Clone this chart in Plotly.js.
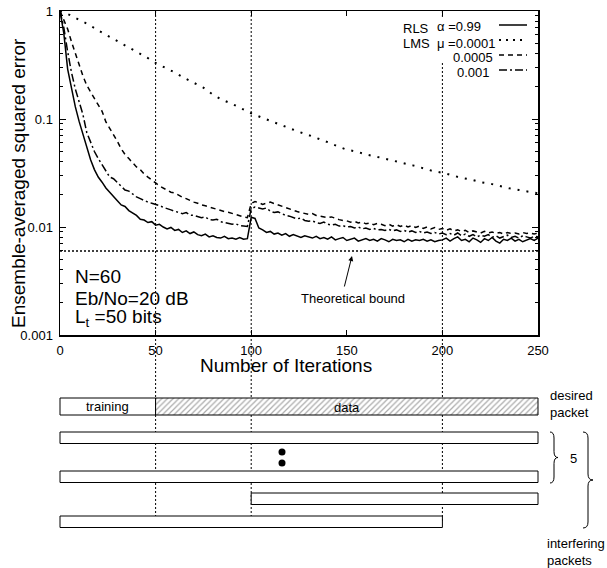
<!DOCTYPE html>
<html>
<head>
<meta charset="utf-8">
<script src="https://cdn.plot.ly/plotly-3.0.1.min.js"></script>
<style>html,body{margin:0;padding:0;background:#fff;}#chart{width:607px;height:568px;}</style>
</head>
<body>
<div id="chart"></div>
<script>
// ---------- data ----------
const iterDense = [0,2,4,6,8,10,12,14,16,18,20,22,24,26,28,30,32,34,36,38,40,42,44,46,48,50,52,54,56,58,60,62,64,66,68,70,72,74,76,78,80,82,84,86,88,90,92,94,96,98,100,102,104,106,108,110,112,114,116,118,120,122,124,126,128,130,132,134,136,138,140,142,144,146,148,150,152,154,156,158,160,162,164,166,168,170,172,174,176,178,180,182,184,186,188,190,192,194,196,198,200,202,204,206,208,210,212,214,216,218,220,222,224,226,228,230,232,234,236,238,240,242,244,246,248,250];
const iterSparse = [0,5,10,15,20,25,30,35,40,45,50,55,60,65,70,75,80,85,90,95,100,105,110,115,120,125,130,135,140,145,150,155,160,165,170,175,180,185,190,195,200,205,210,215,220,225,230,235,240,245,250];

const rlsAlpha099 = [
 1.0,0.62,0.29,0.19,0.13,0.095,0.072,0.057,0.042,0.034,
 0.029,0.026,0.023,0.021,0.019,0.0175,0.016,0.0155,0.0142,0.0135,
 0.0128,0.0118,0.0116,0.0110,0.0112,0.0104,0.0106,0.0100,0.0096,0.0099,
 0.0093,0.0095,0.0089,0.0092,0.0087,0.0090,0.0085,0.0083,0.0086,0.0081,
 0.0083,0.0080,0.0079,0.0082,0.0078,0.0079,0.0077,0.0080,0.0077,0.0078,
 0.0123,0.0120,0.0098,0.0094,0.0089,0.0091,0.0086,0.0088,0.0084,0.0087,
 0.0082,0.0085,0.0083,0.0080,0.0083,0.0081,0.0079,0.0082,0.0078,0.0080,
 0.0077,0.0081,0.0076,0.0078,0.0080,0.0075,0.0077,0.0079,0.0074,0.0076,
 0.0078,0.0075,0.0077,0.0074,0.0078,0.0076,0.0073,0.0077,0.0075,0.0076,
 0.0073,0.0077,0.0074,0.0076,0.0075,0.0077,0.0074,0.0076,0.0073,0.0075,
 0.0076,0.0079,0.0074,0.0078,0.0081,0.0075,0.0077,0.0073,0.0079,0.0076,
 0.0072,0.0078,0.0075,0.0080,0.0074,0.0071,0.0077,0.0075,0.0079,0.0074,
 0.0077,0.0073,0.0076,0.0078,0.0075,0.0079];

const lmsMu0001 = [
 1.0,0.92,0.83,0.75,0.66,0.59,0.52,0.465,0.42,0.375,
 0.33,0.30,0.27,0.24,0.215,0.195,0.168,0.15,0.138,0.124,
 0.113,0.104,0.096,0.089,0.082,0.076,0.071,0.066,0.061,0.056,
 0.052,0.050,0.047,0.045,0.043,0.041,0.039,0.037,0.035,0.033,
 0.0318,0.030,0.0285,0.0275,0.026,0.0252,0.0238,0.0228,0.0220,0.0212,
 0.0205];

const lmsMu0005 = [
 1.0,0.82,0.68,0.52,0.40,0.31,0.25,0.205,0.18,0.155,
 0.135,0.118,0.094,0.082,0.072,0.062,0.053,0.047,0.043,0.039,
 0.036,0.034,0.031,0.029,0.027,0.0256,0.024,0.023,0.0218,0.0210,
 0.0206,0.0196,0.0189,0.0183,0.0175,0.0170,0.0166,0.0160,0.0157,0.0153,
 0.0150,0.0145,0.0142,0.0139,0.0137,0.0133,0.0130,0.0127,0.0124,0.0122,
 0.0165,0.0172,0.0168,0.0162,0.0166,0.0170,0.0165,0.0160,0.0155,0.0150,
 0.0146,0.0142,0.0139,0.0136,0.0134,0.0131,0.0133,0.0128,0.0126,0.0124,
 0.0122,0.0124,0.0120,0.0117,0.0115,0.0114,0.0111,0.0113,0.0109,0.0111,
 0.0107,0.0109,0.0105,0.0108,0.0106,0.0103,0.0106,0.0102,0.0105,0.0101,
 0.0104,0.0100,0.0103,0.0099,0.0102,0.0097,0.0100,0.0096,0.0099,0.0095,
 0.0097,0.0093,0.0096,0.0092,0.0094,0.0091,0.0093,0.0089,0.0092,0.0090,
 0.0088,0.0091,0.0088,0.0090,0.0087,0.0089,0.0086,0.0089,0.0087,0.0088,
 0.0086,0.0089,0.0087,0.0088,0.0086,0.0088];

const lmsMu001 = [
 1.0,0.70,0.42,0.27,0.19,0.145,0.11,0.075,0.060,0.050,
 0.043,0.038,0.033,0.029,0.028,0.026,0.024,0.022,0.0215,0.020,
 0.019,0.0183,0.0176,0.0170,0.0166,0.0163,0.0158,0.0152,0.0149,0.0144,
 0.0140,0.0137,0.0133,0.0136,0.0129,0.0128,0.0125,0.0122,0.0124,0.0117,
 0.0116,0.0118,0.0112,0.0110,0.0109,0.0106,0.0107,0.0103,0.0102,0.0101,
 0.0148,0.0153,0.0150,0.0147,0.0150,0.0140,0.0136,0.0138,0.0133,0.0128,
 0.0126,0.0122,0.0119,0.0121,0.0115,0.0113,0.0114,0.0110,0.0108,0.0111,
 0.0106,0.0104,0.0106,0.0102,0.0103,0.0100,0.0101,0.0098,0.0100,0.0096,
 0.0098,0.0095,0.0097,0.0094,0.0095,0.0093,0.0095,0.0092,0.0094,0.0091,
 0.0093,0.0090,0.0092,0.0089,0.0091,0.0088,0.0090,0.0087,0.0089,0.0086,
 0.0088,0.0085,0.0087,0.0084,0.0088,0.0083,0.0086,0.0082,0.0085,0.0081,
 0.0084,0.0082,0.0085,0.0080,0.0083,0.0079,0.0082,0.0084,0.0080,0.0082,
 0.0079,0.0083,0.0081,0.0079,0.0082,0.0081];

const boundX = [0, 250];
const boundValue = 0.006;

const xTickVals = [0, 50, 100, 150, 200, 250];
const yTickVals = [0.001, 0.01, 0.1, 1];
const yTickText = ['0.001', '0.01', '0.1', '1'];
const yMinorVals = [0.002,0.003,0.004,0.005,0.006,0.007,0.008,0.009,0.02,0.03,0.04,0.05,0.06,0.07,0.08,0.09,0.2,0.3,0.4,0.5,0.6,0.7,0.8,0.9];
const gridIters = [50, 100, 200];

// packet diagram (in iterations)
const trainingStart = 0, trainingEnd = 50, desiredEnd = 250;
const interfererStart = [0, 0, 100, 0];
const interfererEnd = [250, 250, 250, 200];

const legendLabels = ['RLS', 'α =0.99', 'LMS', 'μ =0.0001', '0.0005', '0.001'];
const infoLines = ['N=60', 'Eb/No=20 dB', 'L<sub>t</sub> =50 bits'];

// ---------- geometry helpers (pixels -> paper) ----------
const L = 40, R = 7, T = 11, B = 8, W = 607, H = 568;
const pw = W - L - R, ph = H - T - B;
const PX = px => (px - L) / pw;
const PY = py => (H - B - py) / ph;
const plotX0 = 60, plotX1 = 538;
const pxPerIter = (plotX1 - plotX0) / 250;
const X2 = px => (px - plotX0) / pxPerIter;   // pixel -> x2 data

const FONT = 'Liberation Sans, Arial, Helvetica, sans-serif';
const BLACK = '#000';

const traces = [
  {x: iterDense, y: rlsAlpha099, mode: 'lines', line: {color: BLACK, width: 1.5}, xaxis: 'x', yaxis: 'y'},
  {x: iterSparse, y: lmsMu0001, mode: 'lines', line: {color: BLACK, width: 2, dash: '2px,7px'}, xaxis: 'x', yaxis: 'y'},
  {x: iterDense, y: lmsMu0005, mode: 'lines', line: {color: BLACK, width: 1.5, dash: '5px,4px'}, xaxis: 'x', yaxis: 'y'},
  {x: iterDense, y: lmsMu001, mode: 'lines', line: {color: BLACK, width: 1.5, dash: '8px,3px,2px,3px'}, xaxis: 'x', yaxis: 'y'},
  {x: boundX, y: [boundValue, boundValue], mode: 'lines', line: {color: BLACK, width: 1.5, dash: '2px,2px'}, xaxis: 'x', yaxis: 'y'},
  {type: 'bar', orientation: 'h', x: [desiredEnd - trainingEnd], base: [trainingEnd], y: [406.5], width: [17],
   xaxis: 'x2', yaxis: 'y2',
   marker: {color: 'white', line: {color: BLACK, width: 1},
            pattern: {shape: '/', size: 4, solidity: 0.3, fgcolor: '#555', fillmode: 'overlay'}}},
  {x: [X2(282), X2(282)], y: [452, 463], mode: 'markers', marker: {size: 7, color: BLACK}, xaxis: 'x2', yaxis: 'y2'}
];

const shapes = [];
// vertical dotted lines
gridIters.forEach(g => shapes.push({type: 'line', xref: 'x', yref: 'paper', x0: g, x1: g, y0: PY(521), y1: 1,
  layer: 'below', line: {color: BLACK, width: 1, dash: '2px,2px'}}));
// key background hiding the grid line behind the first two key rows
shapes.push({type: 'rect', xref: 'paper', yref: 'paper', x0: PX(436), x1: PX(450), y0: PY(62), y1: PY(17),
  fillcolor: 'white', line: {width: 0}, layer: 'below'});
// training box
shapes.push({type: 'rect', xref: 'x2', yref: 'y2', x0: trainingStart, x1: trainingEnd, y0: 398, y1: 415,
  fillcolor: 'white', line: {color: BLACK, width: 1}, layer: 'below'});
// interfering packets
const rowTop = [432, 471, 493, 516];
const rowH = 11.5;
interfererStart.forEach((s, i) => shapes.push({type: 'rect', xref: 'x2', yref: 'y2', x0: s, x1: interfererEnd[i],
  y0: rowTop[i], y1: rowTop[i] + rowH, fillcolor: 'white', line: {color: BLACK, width: 1}, layer: 'below'}));
// braces
function brace(pxL, pxR, yTop, yBot, yTip) {
  const xl = X2(pxL), xr = X2(pxR), xm = X2((pxL + pxR) / 2), r = 6;
  return `M ${xl},${yTop} Q ${xm},${yTop} ${xm},${yTop + r} L ${xm},${yTip - r} Q ${xm},${yTip} ${xr},${yTip} ` +
         `Q ${xm},${yTip} ${xm},${yTip + r} L ${xm},${yBot - r} Q ${xm},${yBot} ${xl},${yBot}`;
}
shapes.push({type: 'path', xref: 'x2', yref: 'y2', path: brace(550, 558, 432, 483, 457.5), line: {color: BLACK, width: 1}, fillcolor: 'rgba(0,0,0,0)'});
shapes.push({type: 'path', xref: 'x2', yref: 'y2', path: brace(583, 593, 432, 528, 480), line: {color: BLACK, width: 1}, fillcolor: 'rgba(0,0,0,0)'});
// legend samples
const legendDash = ['solid', '2px,5px', '5px,4px', '8px,3px,2px,3px'];
const legendRowY = [25, 40, 55, 70];
legendDash.forEach((d, i) => shapes.push({type: 'line', xref: 'paper', yref: 'paper', x0: PX(499), x1: PX(527),
  y0: PY(legendRowY[i]), y1: PY(legendRowY[i]), layer: 'above', line: {color: BLACK, width: i === 1 ? 2 : 1.5, dash: d}}));

function ann(px, py, text, size, xanchor, extra) {
  return Object.assign({xref: 'paper', yref: 'paper', x: PX(px), y: PY(py), text: text, showarrow: false,
    xanchor: xanchor || 'center', yanchor: 'middle', font: {family: FONT, size: size, color: BLACK}}, extra || {});
}
const annotations = [
  ann(18, 183, 'Ensemble-averaged squared error', 19, 'center', {textangle: -90}),
  ann(286, 365, 'Number of Iterations', 19),
  ann(73, 277, infoLines[0], 19, 'left'),
  ann(73, 298, infoLines[1], 19, 'left'),
  ann(73, 318, infoLines[2], 19, 'left'),
  ann(401, 28, legendLabels[0], 13, 'left'),
  ann(435, 27, legendLabels[1], 13, 'left'),
  ann(401, 43, legendLabels[2], 13, 'left'),
  ann(435, 43, legendLabels[3], 13, 'left'),
  ann(495, 58, legendLabels[4], 13, 'right'),
  ann(492, 73, legendLabels[5], 13, 'right'),
  ann(353, 298, 'Theoretical bound', 13),
  {xref: 'paper', yref: 'paper', x: PX(352), y: PY(256), ax: -8, ay: 32, text: '', showarrow: true,
   arrowhead: 2, arrowsize: 1, arrowwidth: 1, arrowcolor: BLACK},
  ann(107, 406.5, 'training', 13),
  ann(347, 407, 'data', 13),
  ann(548, 404, 'desired<br>packet', 13, 'left', {align: 'left'}),
  ann(568, 458, '5', 13, 'left'),
  ann(545, 552, 'interfering<br>packets', 13, 'left', {align: 'left'})
];

const layout = {
  width: W, height: H,
  margin: {l: L, r: R, t: T, b: B, pad: 0},
  paper_bgcolor: 'white', plot_bgcolor: 'white',
  showlegend: false,
  font: {family: FONT, color: BLACK, size: 13},
  xaxis: {domain: [PX(plotX0), PX(plotX1)], range: [0, 250], anchor: 'y',
    showline: true, linecolor: BLACK, linewidth: 1.5, mirror: 'ticks',
    ticks: 'inside', ticklen: 5, tickwidth: 1, tickcolor: BLACK,
    tickmode: 'array', tickvals: xTickVals, ticktext: xTickVals.map(String),
    tickfont: {size: 13, family: FONT, color: BLACK}, ticklabelstandoff: 3,
    showgrid: false, zeroline: false, fixedrange: true},
  yaxis: {domain: [PY(335), 1], type: 'log', range: [-3, 0], anchor: 'x',
    showline: true, linecolor: BLACK, linewidth: 1.5, mirror: 'ticks',
    ticks: 'inside', ticklen: 6, tickwidth: 1, tickcolor: BLACK,
    tickmode: 'array', tickvals: yTickVals, ticktext: yTickText,
    tickfont: {size: 13, family: FONT, color: BLACK}, ticklabelstandoff: 3,
    minor: {tickmode: 'array', tickvals: yMinorVals, ticks: 'inside', ticklen: 3, tickwidth: 1, tickcolor: BLACK, showgrid: false},
    showgrid: false, zeroline: false, fixedrange: true},
  xaxis2: {domain: [0, 1], range: [X2(L), X2(W - R)], anchor: 'y2', visible: false, fixedrange: true},
  yaxis2: {domain: [0, PY(345)], range: [H - B, 345], anchor: 'x2', visible: false, fixedrange: true},
  shapes: shapes,
  annotations: annotations,
  bargap: 0
};

Plotly.newPlot('chart', traces, layout, {staticPlot: true, displayModeBar: false});
</script>
</body>
</html>
